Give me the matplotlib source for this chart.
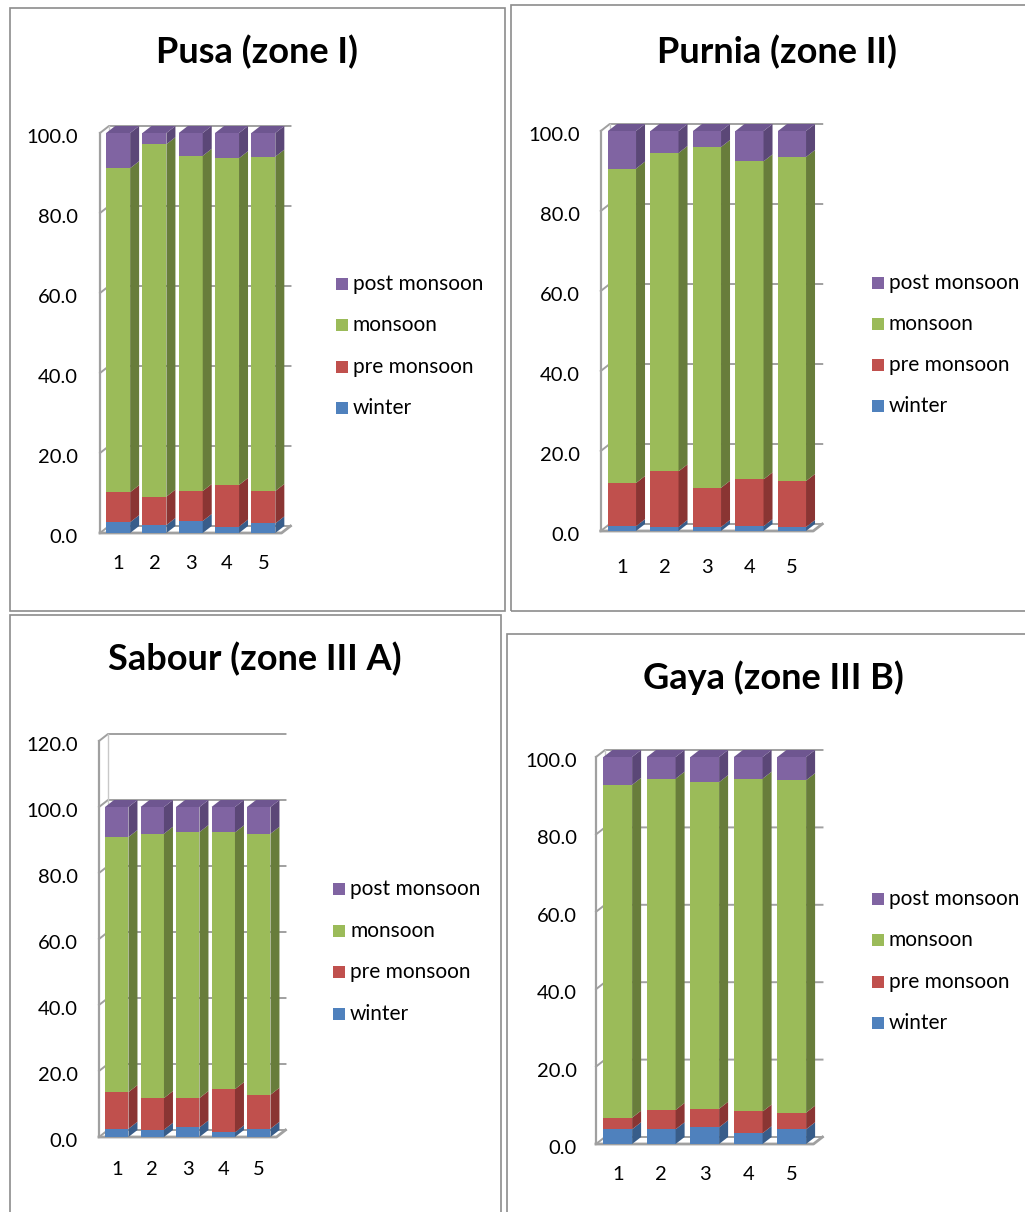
import numpy as np
import matplotlib
matplotlib.use("Agg")
import matplotlib.pyplot as plt
import matplotlib.transforms as mtrans
from matplotlib.patches import Polygon, Rectangle

plt.rcParams['font.family'] = ['Lato', 'DejaVu Sans']

bar_labels = ['1', '2', '3', '4', '5']
seasons = ['winter', 'pre monsoon', 'monsoon', 'post monsoon']

pusa_winter = [2.7, 2.0, 3.0, 1.6, 2.4]
pusa_pre = [7.5, 7.1, 7.5, 10.4, 8.1]
pusa_monsoon = [81.0, 88.1, 83.8, 81.7, 83.6]
pusa_post = [8.8, 2.8, 5.7, 6.3, 5.9]

purnia_winter = [1.2, 1.0, 1.0, 1.2, 1.0]
purnia_pre = [10.8, 13.9, 9.8, 11.7, 11.5]
purnia_monsoon = [78.6, 79.6, 85.2, 79.5, 81.0]
purnia_post = [9.4, 5.5, 4.0, 7.6, 6.5]

sabour_winter = [2.5, 2.2, 2.9, 1.4, 2.5]
sabour_pre = [11.1, 9.6, 8.9, 13.1, 10.3]
sabour_monsoon = [77.3, 80.1, 80.6, 77.8, 79.1]
sabour_post = [9.1, 8.1, 7.6, 7.7, 8.1]

gaya_winter = [3.8, 3.8, 4.3, 2.8, 3.8]
gaya_pre = [3.0, 5.0, 4.8, 5.6, 4.3]
gaya_monsoon = [86.0, 85.6, 84.4, 86.0, 85.9]
gaya_post = [7.2, 5.6, 6.5, 5.6, 6.0]

front_colors = ['#4F81BD', '#C0504D', '#9BBB59', '#8064A2']
side_colors = ['#385D8A', '#8A3533', '#687D3B', '#5B4777']
top_colors = ['#4471A8', '#A84542', '#86A34B', '#6E5690']

W, H = 1025, 1212
fig = plt.figure(figsize=(W / 100, H / 100), dpi=100)


def frect(l, t, r, b):
    return [l / W, 1 - b / H, (r - l) / W, (b - t) / H]


def draw_panel(series, title, box, x05, ppux, y0, ppuy, ymax,
               title_xy, leg_xy, leg_step, ytick_right, xlab_pad):
    # panel frame
    l, t, r, b = box
    fig.add_artist(Rectangle((l / W, 1 - b / H), (r - l) / W, (b - t) / H,
                             transform=fig.transFigure, fill=False,
                             edgecolor='#8c8c8c', lw=1.2))
    fig.text(title_xy[0] / W, 1 - title_xy[1] / H, title, ha='center',
             va='center', fontsize=26, fontweight='bold')

    dxu = 9 / ppux
    dyu = 7 / ppuy
    right = x05 + 5 * ppux + 11
    top = y0 - ppuy * ymax - 9
    ax = fig.add_axes(frect(x05, top, right, y0))
    ax.set_xlim(0.5, 0.5 + (right - x05) / ppux)
    ax.set_ylim(0, (y0 - top) / ppuy)
    ax.patch.set_visible(False)
    for s in ax.spines.values():
        s.set_visible(False)

    x = np.arange(1, 6)
    yt = np.arange(0, ymax + 1, 20)
    ax.set_xticks(x)
    ax.set_xticklabels(bar_labels)
    ax.set_yticks(yt)
    ax.set_yticklabels([f'{v:.1f}' for v in yt])
    ax.tick_params(axis='y', length=0, labelsize=14.5, pad=(x05 - ytick_right) * 0.72)
    ax.tick_params(axis='x', length=0, labelsize=14.5, pad=xlab_pad)
    shift = mtrans.ScaledTranslation(0, -3 / 100, fig.dpi_scale_trans)
    for lab in ax.get_yticklabels():
        lab.set_transform(lab.get_transform() + shift)

    grid = '#a0a0a0'
    for v in yt:
        ax.plot([0.5, 0.5 + dxu, 5.5 + dxu], [v, v + dyu, v + dyu],
                color=grid, lw=1.4, zorder=1, clip_on=False)
    ax.plot([0.5, 0.5], [0, ymax], color=grid, lw=1.6, zorder=1, clip_on=False)
    ax.plot([0.5 + dxu, 0.5 + dxu], [dyu, ymax + dyu], color='#c8c8c8', lw=1,
            zorder=1, clip_on=False)
    ax.plot([0.5, 5.5, 5.5 + dxu], [0, 0, dyu], color=grid, lw=2,
            zorder=1, clip_on=False)

    w = 0.66
    bottoms = np.zeros(5)
    for k, vals in enumerate(series):
        vals = np.array(vals)
        ax.bar(x, vals, width=w, bottom=bottoms, color=front_colors[k],
               linewidth=0, zorder=3)
        for xi, bo, v in zip(x, bottoms, vals):
            xr = xi + w / 2
            tp = bo + v
            ax.add_patch(Polygon([(xr, bo), (xr + dxu, bo + dyu),
                                  (xr + dxu, tp + dyu), (xr, tp)],
                                 closed=True, color=side_colors[k], lw=0, zorder=3))
            if k == len(series) - 1:
                xl = xi - w / 2
                ax.add_patch(Polygon([(xl, tp), (xl + dxu, tp + dyu),
                                      (xr + dxu, tp + dyu), (xr, tp)],
                                     closed=True, color=top_colors[k], lw=0, zorder=3))
        bottoms = bottoms + vals

    # legend, reversed order like the source
    lx, ly = leg_xy
    for i, k in enumerate(range(len(seasons) - 1, -1, -1)):
        yc = ly + i * leg_step
        fig.add_artist(Rectangle((lx / W, 1 - (yc + 6) / H), 12 / W, 12 / H,
                                 transform=fig.transFigure,
                                 facecolor=front_colors[k], edgecolor='none'))
        fig.text((lx + 17) / W, 1 - yc / H, seasons[k], ha='left', va='center',
                 fontsize=15)


draw_panel([pusa_winter, pusa_pre, pusa_monsoon, pusa_post], 'Pusa (zone I)',
           (10, 8, 505, 611), 100, 36.3, 533, 4.0, 100,
           (257, 52), (336, 284), 41.3, 78, 16)
draw_panel([purnia_winter, purnia_pre, purnia_monsoon, purnia_post], 'Purnia (zone II)',
           (511, 5, 1030, 611), 600.75, 42.5, 531, 4.0, 100,
           (777, 52), (872, 283), 41.0, 580, 20)
draw_panel([sabour_winter, sabour_pre, sabour_monsoon, sabour_post], 'Sabour (zone III A)',
           (10, 615, 501, 1220), 99, 35.5, 1137, 3.3, 120,
           (255, 659), (333, 889), 41.7, 78, 17)
draw_panel([gaya_winter, gaya_pre, gaya_monsoon, gaya_post], 'Gaya (zone III B)',
           (507, 634, 1030, 1220), 596, 43.5, 1144, 3.87, 100,
           (773, 678), (872, 899), 41.3, 577, 16)

fig.savefig('out.png', dpi=100)
